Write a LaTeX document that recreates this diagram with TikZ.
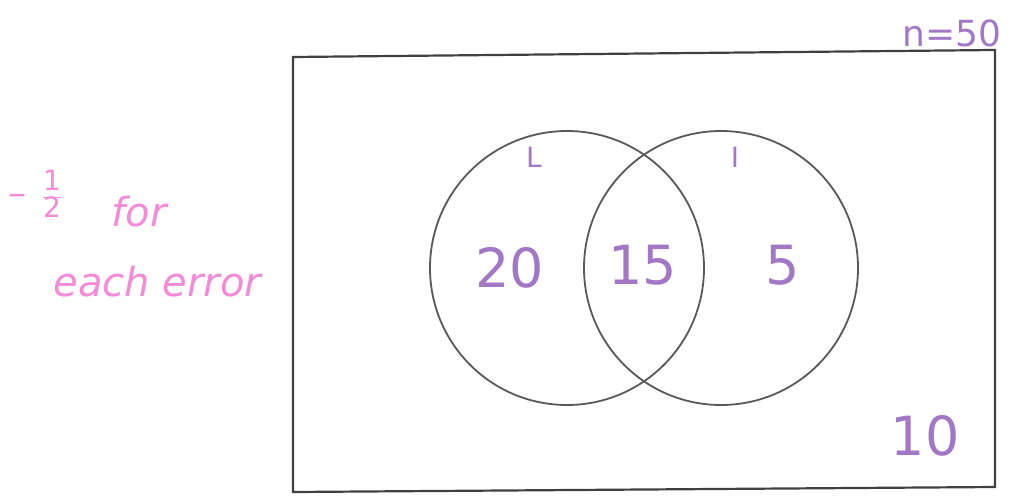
\documentclass[tikz,border=0pt]{standalone}
\usepackage{fontspec}
\setmainfont{DejaVu Sans}
\usepackage{tikz}
\definecolor{ink}{HTML}{A277C6}
\definecolor{marker}{HTML}{F58AD8}
\tikzset{
  set/.style={draw=black!65, line width=1.8pt, circle, minimum size=274pt, inner sep=0pt},
  num/.style={text=ink, font=\fontsize{54}{56}\selectfont},
  lbl/.style={text=ink, font=\fontsize{28}{30}\selectfont},
  note/.style={text=marker, font=\fontsize{40}{42}\selectfont\itshape}
}

\begin{document}
\begin{tikzpicture}[x=1pt,y=-1pt]
            \useasboundingbox (0,0) rectangle (1011,495);
            \coordinate (tl) at (293,57);
            \coordinate (tr) at (995,50);
            \coordinate (br) at (995,487);
            \coordinate (bl) at (293,492);
            \draw[black!75, line width=2.2pt] (tl)--(tr)--(br)--(bl)--cycle;
            \node[set] (L) at (567,268) {};
            \node[set] (I) at (721,268) {};
            \node[lbl] (Llab) at (534,157) {L};
            \node[lbl] (Ilab) at (735,157) {I};
            \node[num] (onlyL) at (510,268) {20};
            \node[num] (both) at (643,265) {15};
            \node[num] (onlyI) at (783,265) {5};
            \node[num] (none) at (925,436) {10};
            \node[lbl, font=\fontsize{36}{38}\selectfont] (n) at (952,33) {n=50};
            \node[text=marker, font=\fontsize{36}{38}\selectfont] (minus) at (18,200) {–};
            \node[text=marker, font=\fontsize{28}{28}\selectfont, inner sep=0pt] (half) at (52,198)
              {\begin{tabular}{@{}c@{}}1\\[-2pt]\hline 2\end{tabular}};
            \node[note, anchor=west] (for) at (108,212) {for};
            \node[note, anchor=west] (each) at (50,282) {each error};
        \end{tikzpicture}
\end{document}
